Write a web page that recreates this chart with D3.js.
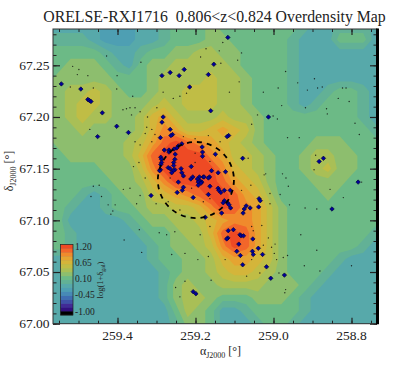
<!DOCTYPE html>
<html>
<head>
<meta charset="utf-8">
<script src="https://cdn.jsdelivr.net/npm/d3@7"></script>
<style>
html, body { margin: 0; padding: 0; background: #fff; }
svg { display: block; }
text { font-family: "Liberation Serif", serif; fill: #222; }
</style>
</head>
<body>
<div id="chart"></div>
<script>
// Colour bands of the map, lowest to highest
const bandColors = ["#000000", "#33107f", "#412a96", "#3f50a8", "#3f6eb2", "#478ab6", "#4e9fb3", "#57a9aa",
    "#62b196", "#6cba86", "#8dbe6e", "#a9bf56", "#c0bd45", "#d4b53a", "#e5a431", "#f08a2c", "#f2662a", "#ee4a24"];
const barLabels = ["1.20", "0.65", "0.10", "-0.45", "-1.00"];
const barValues = [1.2, 0.65, 0.1, -0.45, -1.0];

// Map: band number at each grid node
const gridRaStart = 259.58, gridRaStep = 0.03;
const gridDecStart = 67.2875, gridDecStep = 0.0125;
const mapBands = [
    [7,7,7,7,7,6,6,6,7,7,8,9,9,9,10,9,9,9,9,9,9,9,8,7,7,8,8,8,7,7],
    [8,8,8,8,7,6,6,6,7,7,8,9,9,9,10,10,9,9,9,9,9,8,7,7,7,9,9,9,7,7],
    [9,9,9,9,9,8,7,7,8,9,9,10,10,11,11,10,10,9,9,9,9,8,7,7,7,7,7,7,7,7],
    [9,9,10,10,10,9,8,7,9,10,10,11,11,11,11,11,10,9,9,9,9,8,7,7,7,7,7,7,7,7],
    [9,10,10,10,10,10,9,9,9,10,11,11,11,11,12,11,11,10,9,9,9,8,7,7,7,7,7,7,7,7],
    [10,10,11,11,12,11,10,9,9,10,11,11,12,12,12,11,11,10,9,9,9,8,7,7,8,9,9,8,7,7],
    [10,10,11,12,12,11,10,10,10,11,12,11,12,12,12,11,11,10,9,9,9,8,7,8,9,9,9,8,7,7],
    [10,10,11,12,11,11,10,10,11,13,14,12,11,11,11,12,11,11,10,9,9,9,9,9,9,9,9,8,7,7],
    [10,10,10,11,10,10,10,10,11,13,15,14,12,12,13,14,13,12,10,9,9,9,9,9,9,9,9,9,8,7],
    [9,10,10,10,10,10,10,11,12,14,16,17,16,15,14,13,12,11,10,9,9,9,9,10,10,10,9,9,9,8],
    [9,9,10,10,10,10,10,11,13,16,17,17,17,17,15,14,12,12,11,10,9,9,10,11,11,10,10,9,9,9],
    [9,9,9,9,9,10,10,10,12,15,17,17,17,17,17,15,13,12,11,10,9,9,10,11,12,10,10,9,9,9],
    [9,9,9,9,9,9,10,10,11,13,15,17,17,17,17,16,14,13,12,10,9,9,9,10,10,10,9,9,9,9],
    [9,9,9,8,7,8,9,10,10,12,13,14,15,16,17,17,16,14,13,11,9,9,9,9,10,9,9,9,9,9],
    [9,9,8,7,7,8,9,9,10,11,11,12,12,13,15,17,16,15,14,12,10,9,9,9,9,9,9,9,9,9],
    [9,9,7,7,7,7,7,8,9,10,10,11,11,12,13,14,15,15,14,12,10,9,9,9,9,9,9,9,9,9],
    [9,9,8,7,7,7,7,7,8,9,9,10,11,11,13,16,17,16,14,12,10,9,9,9,9,9,9,9,8,7],
    [9,9,8,7,7,7,7,7,7,8,9,10,10,11,12,15,17,16,14,12,10,9,9,9,9,9,9,8,7,7],
    [7,7,7,7,7,7,7,7,7,8,9,9,10,10,11,13,14,14,13,12,10,9,9,9,9,8,7,7,7,7],
    [7,7,7,7,7,7,7,7,7,7,8,9,10,10,11,12,13,13,12,11,10,9,9,9,8,7,7,7,7,7],
    [7,7,7,7,7,7,7,7,7,7,8,10,11,10,10,11,11,11,11,10,10,10,9,8,7,7,7,7,7,7],
    [7,7,7,7,7,7,7,7,7,7,8,10,11,11,10,9,9,9,10,10,10,9,8,7,7,7,7,7,7,7],
    [7,7,7,7,7,7,7,7,7,7,7,9,11,10,9,7,7,8,9,9,9,9,8,7,7,7,7,7,7,7],
    [7,7,7,7,7,7,7,7,7,7,7,8,10,10,9,7,7,7,8,9,9,8,7,7,7,7,7,7,7,7],
    [7,7,7,7,7,7,7,7,7,7,7,8,10,10,9,7,7,7,8,9,9,8,7,7,7,7,7,7,7,7]
];

// Spectroscopic members [RA, Dec]
const members = [
    [259.544,67.232],[259.494,67.227],[259.476,67.217],[259.472,67.216],[259.468,67.215],[259.439,67.204],
    [259.402,67.191],[259.372,67.185],[259.451,67.181],[259.286,67.240],[259.265,67.243],[259.242,67.240],
    [259.229,67.246],[259.215,67.229],[259.283,67.200],[259.286,67.195],[259.265,67.188],[259.259,67.183],
    [259.263,67.182],[259.290,67.180],[259.115,67.182],[259.119,67.181],[259.235,67.174],[259.244,67.172],
    [259.248,67.170],[259.255,67.169],[259.280,67.168],[259.268,67.168],[259.268,67.166],[259.252,67.164],
    [259.289,67.161],[259.287,67.159],[259.287,67.156],[259.289,67.154],[259.253,67.159],[259.256,67.156],
    [259.256,67.153],[259.270,67.151],[259.265,67.150],[259.290,67.149],[259.292,67.148],[259.253,67.149],
    [259.257,67.148],[259.261,67.146],[259.237,67.150],[259.235,67.146],[259.231,67.143],[259.211,67.152],
    [259.183,67.171],[259.182,67.166],[259.182,67.162],[259.149,67.164],[259.159,67.148],[259.142,67.146],
    [259.123,67.147],[259.207,67.142],[259.212,67.140],[259.190,67.142],[259.180,67.142],[259.178,67.142],
    [259.195,67.140],[259.188,67.138],[259.184,67.137],[259.193,67.137],[259.186,67.136],[259.193,67.134],
    [259.164,67.142],[259.167,67.141],[259.244,67.137],[259.163,67.133],[259.231,67.132],[259.234,67.129],
    [259.247,67.127],[259.206,67.122],[259.167,67.125],[259.142,67.131],[259.140,67.129],[259.126,67.129],
    [259.135,67.127],[259.111,67.129],[259.126,67.119],[259.129,67.117],[259.118,67.117],[259.114,67.115],
    [259.110,67.112],[259.133,67.107],[259.175,67.103],[259.314,67.124],[259.037,67.121],[259.034,67.119],
    [259.038,67.113],[259.070,67.114],[259.075,67.111],[259.060,67.112],[259.078,67.107],[259.103,67.091],
    [259.116,67.090],[259.117,67.083],[259.120,67.082],[259.086,67.086],[259.083,67.085],[259.077,67.085],
    [259.053,67.082],[259.089,67.077],[259.039,67.073],[259.094,67.070],[259.054,67.070],[259.052,67.067],
    [259.028,67.067],[259.085,67.066],[259.079,67.057],[259.018,67.055],[258.972,67.047],[259.007,67.044],
    [259.206,67.031],[259.199,67.029],[259.117,67.277],[259.153,67.251],[259.167,67.241],[259.161,67.206],
    [259.079,67.160],[259.013,67.200],[258.872,67.160],[258.883,67.157],[258.783,67.137],[258.850,67.111]
];

// Photometric sources [RA, Dec]
const sources = [
    [259.515,67.249],[259.499,67.246],[259.503,67.241],[259.476,67.240],[259.521,67.229],[259.428,67.259],
    [259.340,67.253],[259.401,67.240],[259.462,67.228],[259.402,67.227],[259.361,67.220],[259.386,67.207],
    [259.377,67.208],[259.368,67.209],[259.355,67.209],[259.364,67.202],[259.342,67.205],[259.323,67.200],
    [259.325,67.190],[259.471,67.188],[259.355,67.176],[259.312,67.188],[259.299,67.209],[259.257,67.218],
    [259.240,67.220],[259.223,67.223],[259.283,67.224],[259.187,67.258],[259.173,67.266],[259.139,67.264],
    [259.135,67.252],[259.130,67.272],[259.092,67.255],[259.082,67.262],[259.088,67.234],[259.113,67.224],
    [259.026,67.224],[258.988,67.228],[258.969,67.244],[258.895,67.237],[258.938,67.233],[258.913,67.226],
    [258.887,67.228],[258.875,67.229],[258.823,67.228],[258.814,67.228],[258.834,67.218],[258.806,67.215],
    [258.979,67.211],[258.918,67.209],[258.864,67.208],[258.862,67.203],[259.041,67.202],[259.001,67.201],
    [258.990,67.198],[259.056,67.193],[258.791,67.194],[258.964,67.180],[258.934,67.180],[258.780,67.183],
    [258.892,67.163],[259.065,67.160],[258.896,67.149],[259.020,67.145],[258.977,67.145],[258.968,67.141],
    [258.774,67.137],[259.462,67.133],[259.447,67.134],[259.385,67.130],[259.468,67.123],[259.441,67.123],
    [259.424,67.115],[259.406,67.115],[259.412,67.109],[259.417,67.106],[259.351,67.116],[259.344,67.091],
    [259.293,67.088],[259.383,67.081],[259.338,67.069],[259.261,67.067],[259.227,67.068],[259.274,67.086],
    [259.253,67.089],[259.188,67.086],[259.251,67.035],[259.240,67.026],[259.227,67.041],[258.962,67.133],
    [258.855,67.130],[258.821,67.122],[258.919,67.112],[258.959,67.115],[258.889,67.111],[258.930,67.086],
    [258.889,67.071],[258.921,67.056],[258.986,67.049],[258.800,67.056],[258.881,67.051],[258.969,67.033],
    [258.971,67.030],[259.160,67.042],[259.005,67.074],[258.998,67.068],[258.964,67.066],[259.056,67.094],
    [259.035,67.049],[259.069,67.046],[258.983,67.125],[259.342,67.173],[259.345,67.156],[259.312,67.176],
    [259.329,67.184],[259.304,67.183],[259.231,67.181],[259.201,67.179],[259.167,67.182],[259.137,67.176],
    [259.359,67.152],[259.329,67.141],[259.368,67.131],[259.342,67.124],[259.301,67.116],[259.270,67.118],
    [259.240,67.110],[259.180,67.118],[259.210,67.131],[259.265,67.141],[259.201,67.156],[259.201,67.165],
    [259.163,67.157],[259.163,67.121],[259.009,67.116],[259.024,67.144],[259.058,67.134],[259.082,67.129],
    [259.009,67.126],[259.030,67.095],[259.052,67.090],[259.013,67.083],[258.996,67.077],[259.026,67.076],
    [259.163,67.094],[259.167,67.065],[259.194,67.062],[259.124,67.062],[259.056,67.062],[258.992,67.062],
    [258.975,67.064]
];

// Dashed circle round the main overdensity
const circleCenter = [259.199, 67.139];
const circleRadius = 0.0368;

const xMajor = [259.4, 259.2, 259.0, 258.8];
const xMinor = d3.range(259.55, 258.74, -0.05);
const yMajor = [67.00, 67.05, 67.10, 67.15, 67.20, 67.25];
const yMinor = d3.range(67.00, 67.281, 0.01);

// Plot area
const left = 53, right = 377, top_ = 29, bottom = 323.7;
const x = d3.scaleLinear().domain([259.4, 258.8]).range([117.5, 351.5]);
const y = d3.scaleLinear().domain([67.0, 67.25]).range([bottom, 65.3]);

const svg = d3.select("#chart").append("svg").attr("width", 405).attr("height", 368);

svg.append("clipPath").attr("id", "frame")
    .append("rect").attr("x", left).attr("y", top_).attr("width", right - left).attr("height", bottom - top_);

// Filled bands with d3.contours, in log(1+delta) units
const bandStep = 2.2 / 18;
const bandToValue = b => -1 + (b + 0.5) * bandStep;
const grid = mapBands.flat().map(bandToValue);
const contours = d3.contours().size([mapBands[0].length, mapBands.length])
    .thresholds(d3.range(6, 18).map(k => -1 + k * bandStep));

const toPlot = d3.geoTransform({
    point(px, py) {
        this.stream.point(x(gridRaStart - (px - 0.5) * gridRaStep), y(gridDecStart - (py - 0.5) * gridDecStep));
    }
});
const path = d3.geoPath(toPlot);

const map = svg.append("g").attr("clip-path", "url(#frame)");
map.selectAll("path")
    .data(contours(grid))
    .enter()
    .append("path")
    .attr("d", path)
    .attr("fill", (d, i) => bandColors[i + 6]);

// Faint sources
map.selectAll(".src")
    .data(sources)
    .enter()
    .append("circle")
    .attr("cx", d => x(d[0]))
    .attr("cy", d => y(d[1]))
    .attr("r", 0.7)
    .attr("fill", "#111")
    .attr("opacity", 0.85);

// Members, drawn as small squares turned on their corner
const diamond = d3.symbol().type(d3.symbolSquare).size(10);
map.selectAll(".mem")
    .data(members)
    .enter()
    .append("path")
    .attr("d", diamond)
    .attr("transform", d => `translate(${x(d[0])},${y(d[1])}) rotate(45)`)
    .attr("fill", "#00009a")
    .attr("stroke", "#000030")
    .attr("stroke-width", 0.6);

// Circle
map.append("ellipse")
    .attr("cx", x(circleCenter[0]))
    .attr("cy", y(circleCenter[1]))
    .attr("rx", y(circleCenter[1]) - y(circleCenter[1] + circleRadius))
    .attr("ry", y(circleCenter[1]) - y(circleCenter[1] + circleRadius))
    .attr("fill", "none")
    .attr("stroke", "#000")
    .attr("stroke-width", 1.8)
    .attr("stroke-dasharray", "5,5");

// Axes
function drawAxis(axis, transform, major, minor, size, minorSize) {
    const g = svg.append("g").attr("transform", transform);
    g.call(axis.tickValues(minor).tickSize(minorSize).tickFormat(""));
    g.selectAll(".domain").remove();
    g.selectAll("line").attr("stroke", "#222");
    const h = svg.append("g").attr("transform", transform);
    h.call(axis.tickValues(major).tickSize(size).tickFormat(""));
    h.selectAll(".domain").remove();
    h.selectAll("line").attr("stroke", "#222").attr("stroke-width", 1.2);
}
drawAxis(d3.axisTop(x), `translate(0,${bottom})`, xMajor, xMinor, 6, 3);
drawAxis(d3.axisBottom(x), `translate(0,${top_})`, xMajor, xMinor, 6, 3);
drawAxis(d3.axisRight(y), `translate(${left},0)`, yMajor, yMinor, 7, 3.5);
drawAxis(d3.axisLeft(y), `translate(${right},0)`, yMajor, yMinor, 7, 3.5);

svg.append("rect")
    .attr("x", left).attr("y", top_)
    .attr("width", right - left).attr("height", bottom - top_)
    .attr("fill", "none").attr("stroke", "#333").attr("stroke-width", 1);
svg.append("line")
    .attr("x1", right + 0.5).attr("x2", right + 0.5)
    .attr("y1", top_ - 0.5).attr("y2", bottom + 0.5)
    .attr("stroke", "#000").attr("stroke-width", 3);

// Tick labels
svg.selectAll(".xl").data(xMajor).enter().append("text")
    .attr("x", d => x(d)).attr("y", 340)
    .attr("text-anchor", "middle").attr("font-size", 13.5)
    .text(d => d.toFixed(1));
svg.selectAll(".yl").data(yMajor).enter().append("text")
    .attr("x", 49.5).attr("y", d => y(d) + 4.3)
    .attr("text-anchor", "end").attr("font-size", 13.5)
    .text(d => d.toFixed(2));

// Title and axis titles
svg.append("text")
    .attr("x", 214.5).attr("y", 22)
    .attr("text-anchor", "middle").attr("font-size", 15.8)
    .attr("xml:space", "preserve").style("white-space", "pre")
    .text("ORELSE-RXJ1716  0.806<z<0.824 Overdensity Map");

const xTitle = svg.append("text").attr("x", 220.5).attr("y", 355).attr("text-anchor", "middle").attr("font-size", 12);
xTitle.append("tspan").text("α");
xTitle.append("tspan").attr("font-size", 8).attr("dy", 2.5).text("J2000");
xTitle.append("tspan").attr("dy", -2.5).text(" [°]");

const yTitle = svg.append("text").attr("transform", "translate(13,171) rotate(-90)").attr("text-anchor", "middle").attr("font-size", 12);
yTitle.append("tspan").text("δ");
yTitle.append("tspan").attr("font-size", 8).attr("dy", 2.5).text("J2000");
yTitle.append("tspan").attr("dy", -2.5).text(" [°]");

// Colour bar
const barX = 60.5, barW = 12.5, barTop = 244.5, barBottom = 315;
const barY = d3.scaleLinear().domain([-1, 1.2]).range([barBottom, barTop]);
svg.selectAll(".band").data(bandColors).enter().append("rect")
    .attr("x", barX).attr("width", barW)
    .attr("y", (d, i) => barY(-1 + (i + 1) * bandStep))
    .attr("height", (d, i) => barY(-1 + i * bandStep) - barY(-1 + (i + 1) * bandStep) + 0.3)
    .attr("fill", d => d);
svg.append("rect")
    .attr("x", barX).attr("y", barTop).attr("width", barW).attr("height", barBottom - barTop)
    .attr("fill", "none").attr("stroke", "#222").attr("stroke-width", 0.7);
const barLabelY = d3.scaleLinear().domain([-1, 1.2]).range([314.5, 249.5]);
svg.selectAll(".bl").data(barValues).enter().append("text")
    .attr("x", 75).attr("y", d => barLabelY(d))
    .attr("font-size", 9.5)
    .text((d, i) => barLabels[i]);

const barTitle = svg.append("text").attr("transform", "translate(103,280) rotate(-90)").attr("text-anchor", "middle").attr("font-size", 8.5);
barTitle.append("tspan").text("log(1+δ");
barTitle.append("tspan").attr("font-size", 6).attr("dy", 1.5).text("gal");
barTitle.append("tspan").attr("dy", -1.5).text(")");
</script>
</body>
</html>
